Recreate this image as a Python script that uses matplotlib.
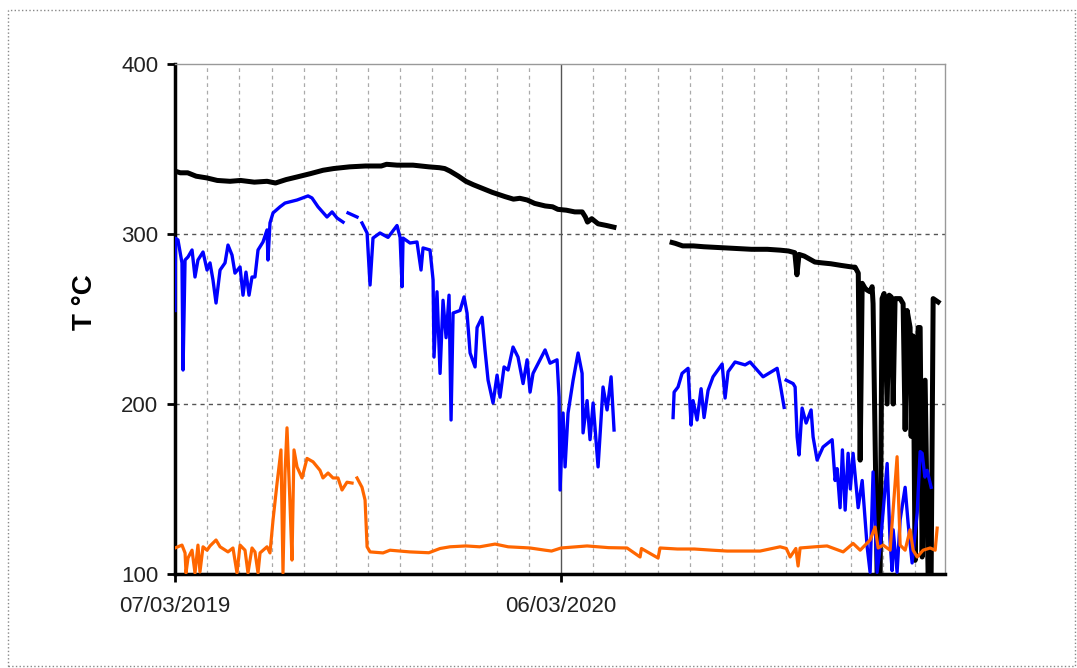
import numpy as np
import matplotlib
matplotlib.use('Agg')
import matplotlib.pyplot as plt
from matplotlib.patches import Rectangle

plt.rcParams['font.family'] = ['Liberation Sans', 'DejaVu Sans']

# ── data: days since 07/03/2019, temperature in °C (NaN = gap in record) ─────
nan = np.nan

black_days = [0, 5, 12, 20, 30, 40, 52, 62, 75, 87, 95, 105, 115, 128, 140, 150,
              165, 180, 195, 200, 210, 225, 240, 250, 255, 260, 268, 275, 282,
              290, 300, 312, 320, 326, 333, 340, 350, 357, 362, 370, 378, 385,
              388, 390, 394, 400, 408, 415, 440,
              470, 473, 480, 490, 500, 515, 530, 545, 560, 572, 580, 586, 588,
              590, 595, 605, 612, 620, 630, 641, 643, 646, 647.8, 649.7, 652.5,
              654.4, 657.2, 659.1, 660, 663.8, 666.7, 668.5, 670.4, 673.3, 675.2,
              677.1, 679, 680.8, 682.7, 685.6, 688.4, 690.3, 692.2, 695, 696,
              697.9, 699.7, 702.6, 704.5, 706.4, 709.2, 712, 714.9, 716.8, 721.5]
black_temp = [337, 336, 336, 334, 333, 331.5, 331, 331.5, 330.5, 331, 330, 332,
              333.5, 335.5, 337.5, 338.5, 339.5, 340, 340, 341, 340.5, 340.5,
              339.5, 339, 338.5, 337, 334, 331, 329, 327, 324.5, 322, 320.5, 321,
              320, 318, 316.5, 316, 314.5, 314, 313, 313, 310, 307, 309, 306, 305,
              304, nan,
              295, 294.5, 293, 293, 292.5, 292, 291.5, 291, 291, 290.5, 290, 289,
              276, 288, 287, 283.5, 283, 282.5, 281.5, 280.5, 280.5, 277, 167,
              271, 268, 267, 266, 269, 259, 100, 100, 262, 265, 200, 264, 263,
              200, 262, 262, 262, 259, 185, 255, 245, 181, 240, 108, 245, 245,
              110, 214, 100, 100, 262, 260]

blue_days = [0, 0.5, 2.8, 6.6, 7.6, 9.5, 12.3, 16.1, 18.9, 21.7, 26.5, 30.3, 33.1,
             35.9, 38.8, 42.6, 47.3, 50.1, 53.9, 56.7, 61.5, 64.3, 67.1, 70, 72.8,
             75.6, 78.5, 83.2, 87, 87.9, 89.8, 92.7, 99.3, 104, 115.4, 125.8,
             129.5, 135.2, 143.7, 148.5, 153.2, 158.9, 161, 163.6, 172.1, 174,
             176.8, 181.6, 184.4, 187.2, 193.8, 201.4, 209.9, 212.8, 214.7, 215.6,
             222.2, 228.8, 232.6, 234.5, 241.1, 244, 244.9, 247.7, 250.6, 253.4,
             256.3, 259.1, 261, 262.9, 269.5, 273.3, 276.1, 279, 283.7, 285.6,
             290.3, 293.1, 296, 300.7, 304.5, 307.3, 311.1, 314.9, 319.6, 324.3,
             329.1, 332.9, 335.7, 338.5, 345.1, 349.9, 354.6, 361.2, 363.1, 364.1,
             366.9, 368.8, 371.6, 376.4, 381.1, 384.9, 385.8, 389.6, 392.4, 395.3,
             400, 404.7, 408.5, 412.3, 415.1, 440,
             470.9, 471.9, 475.6, 479.4, 485.1, 487.9, 489.8, 493.6, 497.4, 500.2,
             504, 508.7, 517.3, 520.1, 522.9, 529.5, 539, 543.7, 550.3, 556,
             569.3, 572.1, 575.9, 577, 577.8, 584.4, 586.3, 588.2, 590, 592.9,
             596.7, 601.4, 603.3, 607.1, 612.7, 621.3, 624.1, 626, 628.8, 631,
             633.6, 636.4, 638.5, 641.1, 645.9, 649.7, 654.4, 657.2, 660, 663.8,
             666.7, 673.3, 676, 678, 679, 682.7, 685.6, 690.3, 693.1, 696.9,
             701.7, 704.5, 706.4, 709, 711.1, 714.9]
blue_temp = [255, 297.5, 296.5, 283, 220, 284.7, 286.5, 290.6, 274.7, 284.7,
             289.4, 278.8, 283, 273, 259.4, 278.8, 283, 293.5, 287.6, 277, 280.6,
             264, 277.6, 264, 274.7, 274.7, 290.6, 295.3, 302.4, 284.7, 306.5,
             312.4, 316, 318.2, 320, 322.4, 321.2, 316, 310, 313, 309.4, 307, nan,
             312.4, 310, nan, 306.5, 300.6, 270, 297.6, 300.6, 298, 305, 298, 269,
             297.6, 294.7, 295.3, 278.8, 291.8, 290.6, 273, 227.6, 266, 218, 261,
             239, 264, 190.6, 253.5, 255, 263, 253.5, 230, 221.8, 245, 251, 231.8,
             214, 200.6, 217, 204, 221.8, 220, 233.5, 227.6, 212, 226, 207, 218,
             226, 231.8, 224, 226, 204, 149.4, 194.7, 163, 194.7, 214, 230, 218,
             183, 202, 179, 200.6, 163, 210, 196.5, 216, 184.7, nan,
             192, 207, 210, 218, 221, 187.6, 202, 190.6, 209, 192, 208, 216, 223.5,
             203.5, 219, 224.7, 223, 224.7, 220, 216, 221, 212, 198, nan, 214, 212,
             210, 180.6, 170, 197.6, 188.8, 196.5, 180.6, 167, 174.7, 179, 155,
             162, 139, 173, 137.6, 171, 150, 171, 139, 155, 116, 101, 160, 101,
             116, 165, 120, 102, 126, 101, 132, 151, 130, 106.5, 136, 172, 171,
             157, 161, 151]

orange_days = [0, 6.6, 9.5, 10.4, 12.3, 16.1, 18.9, 21.7, 23.6, 26.5, 30.3, 33.1,
               38.8, 42.6, 50.1, 54.8, 58.6, 61.5, 66.2, 69, 72.8, 75.6, 78.5,
               80.4, 87, 89.8, 92.7, 96.5, 100.2, 102.1, 104, 105.9, 108.7, 110.6,
               112.5, 115.4, 120.1, 124.8, 130.5, 137.1, 139.9, 144.7, 149.4,
               154.1, 157.9, 162.6, 167.4, 170, 172.1, 176.8, 179.7, 181.6, 184.4,
               196.7, 203.3, 222, 240, 250.6, 260, 275, 288, 302.6, 315, 330,
               335.7, 350, 356, 365, 389.6, 410, 427.4, 439.7, 441, 456.7, 458.6,
               475, 491, 508, 522, 540, 553.2, 572.1, 578, 581.6, 587, 589.1, 591,
               605, 616.5, 631.7, 641.1, 647.8, 657.2, 661.9, 664.8, 669.5, 676.1,
               682.7, 685.6, 690.3, 695, 697.9, 701.7, 707.3, 714, 718.7, 720.6]
orange_temp = [115.3, 117, 112.4, 100.6, 109.4, 114, 100.6, 117, 101.2, 116, 114,
               116.5, 120, 116, 113, 115.3, 100.6, 117, 114, 100.6, 115.3, 113,
               100.6, 112.4, 116, 112.4, 131.8, 153.5, 173, 100.6, 159.4, 186,
               141.8, 108.2, 173, 163, 156.5, 168, 166, 161, 156.5, 159.4, 156.5,
               156.5, 149.4, 154, 153.5, nan, 156.5, 151, 143.5, 116, 113, 112.4,
               114, 113, 112.5, 115, 116, 116.5, 116, 117.6, 116, 115.5, 115.3,
               114, 113.5, 115.3, 116.5, 115.5, 115.3, 110, 115, 109.4, 115.3,
               114.7, 114.7, 114, 113.5, 113.5, 113.5, 116, 115, 110, 115, 104.7,
               115.3, 116, 116.5, 113, 118, 114, 120, 127.6, 115.3, 117, 114, 169,
               117, 114, 126, 114, 110, 114, 115.3, 114, 127]

x_ticks = [0, 365]
x_ticklabels = ['07/03/2019', '06/03/2020']
y_ticks = [100, 200, 300, 400]

# ── figure ────────────────────────────────────────────────────────────────────
fig = plt.figure(figsize=(10.77, 6.68), dpi=100)
ax = fig.add_axes([175 / 1077, 1 - 574 / 668, 770 / 1077, 510 / 668])

ax.plot(black_days, black_temp, color='black', linewidth=3.6, zorder=3,
        solid_joinstyle='round')
ax.plot(blue_days, blue_temp, color='#0000FF', linewidth=2.4, zorder=4)
ax.plot(orange_days, orange_temp, color='#FF6600', linewidth=2.3, zorder=5)

ax.set_xlim(0, 728)
ax.set_ylim(100, 400)

# monthly dotted gridlines, solid yearly line
for d in np.arange(1, 24) * 365 / 12:
    if d >= 728:
        break
    if abs(d - 365) < 1:
        ax.axvline(d, color='#555555', linewidth=1.0, zorder=1)
    else:
        ax.axvline(d, color='#aaaaaa', linewidth=0.9, linestyle=(0, (3, 3)), zorder=1)
for v in (200, 300):
    ax.axhline(v, color='#555555', linewidth=1.0, linestyle=(0, (3, 3)), zorder=1)

ax.set_xticks(x_ticks)
ax.set_xticklabels(x_ticklabels)
ax.set_yticks(y_ticks)
ax.tick_params(axis='both', direction='out', length=6, width=2, labelsize=16,
               labelcolor='#222222')
ax.tick_params(axis='x', pad=10)
ax.tick_params(axis='y', pad=6)

for s in ('left', 'bottom'):
    ax.spines[s].set_linewidth(2.5)
for s in ('top', 'right'):
    ax.spines[s].set_color('#999999')
    ax.spines[s].set_linewidth(1.0)

fig.text(85 / 1077, 1 - 302 / 668, 'T °C', rotation=90, ha='center', va='center',
         fontsize=20, fontweight='bold')

fig.patches.append(Rectangle((8 / 1077, 2 / 668), 1067 / 1077, 656 / 668,
                             transform=fig.transFigure, fill=False,
                             edgecolor='#888888', linewidth=1.0, linestyle=':'))

fig.savefig('out.png', dpi=100)
